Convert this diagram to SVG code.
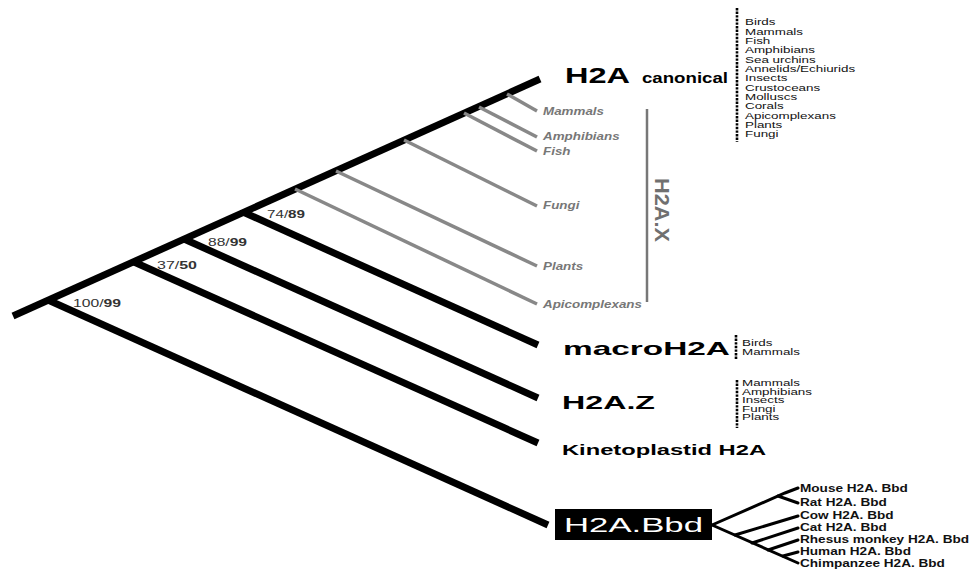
<svg xmlns="http://www.w3.org/2000/svg" width="971" height="570" viewBox="0 0 971 570">
<style>
.thick{stroke:#000;stroke-width:7;fill:none;stroke-linecap:butt}
.grey{stroke:#888;stroke-width:3.5;fill:none}
.thin{stroke:#000;stroke-width:3;fill:none;stroke-linecap:round}
.dot{stroke:#000;stroke-width:2.6;stroke-dasharray:2.4 1.2;fill:none}
text{font-family:"Liberation Sans",Arial,sans-serif}
.big{font-weight:bold;fill:#000}
.lst{font-size:8.6px;fill:#111}
.gl{font-size:10px;font-weight:bold;font-style:italic;fill:#777}
.bs{font-size:10.5px;fill:#333}
.bbd{font-size:10px;font-weight:bold;fill:#111}
</style>
<g id="connectors">
<line class="thick" x1="13" y1="316" x2="540" y2="79"/>
<line class="thick" x1="48" y1="300" x2="548" y2="525"/>
<line class="thick" x1="134" y1="262" x2="538" y2="443"/>
<line class="thick" x1="184" y1="239" x2="538" y2="398"/>
<line class="thick" x1="243" y1="212" x2="538" y2="345"/>
<line class="grey" x1="295" y1="189" x2="537" y2="304"/>
<line class="grey" x1="336" y1="171" x2="537" y2="266"/>
<line class="grey" x1="404" y1="140" x2="537" y2="206"/>
<line class="grey" x1="464" y1="113" x2="537" y2="151"/>
<line class="grey" x1="479" y1="107" x2="537" y2="137"/>
<line class="grey" x1="507" y1="94" x2="537" y2="111"/>
<line x1="647" y1="109" x2="647" y2="302" stroke="#777" stroke-width="2.5"/>
<polyline class="thin" points="712,525 785,493 798,488"/>
<line class="thin" x1="778" y1="496" x2="798" y2="503"/>
<line class="thin" x1="712" y1="525" x2="798" y2="563"/>
<line class="thin" x1="735" y1="535" x2="798" y2="516"/>
<line class="thin" x1="752" y1="543" x2="798" y2="528"/>
<line class="thin" x1="768" y1="550" x2="798" y2="540"/>
<line class="thin" x1="783" y1="556" x2="798" y2="552"/>
<line class="dot" x1="737" y1="8" x2="737" y2="142"/>
<line class="dot" x1="736" y1="335" x2="736" y2="359"/>
<line class="dot" x1="737" y1="380" x2="737" y2="428"/>
</g>
<g id="bootstrap">
<text class="bs" x="73" y="307" textLength="48" lengthAdjust="spacingAndGlyphs">100/<tspan font-weight="bold">99</tspan></text>
<text class="bs" x="157" y="269" textLength="40" lengthAdjust="spacingAndGlyphs">37/<tspan font-weight="bold">50</tspan></text>
<text class="bs" x="208" y="246" textLength="39" lengthAdjust="spacingAndGlyphs">88/<tspan font-weight="bold">99</tspan></text>
<text class="bs" x="267" y="218" textLength="38" lengthAdjust="spacingAndGlyphs">74/<tspan font-weight="bold">89</tspan></text>
</g>
<g id="h2a-canonical">
<text class="big" x="565" y="83" font-size="22" textLength="65" lengthAdjust="spacingAndGlyphs">H2A</text>
<text class="big" x="642" y="83" font-size="14" textLength="86" lengthAdjust="spacingAndGlyphs">canonical</text>
<g transform="translate(745,0) scale(1.56,1)">
<text class="lst" x="0" y="25.5">Birds</text>
<text class="lst" x="0" y="34.8">Mammals</text>
<text class="lst" x="0" y="44.2">Fish</text>
<text class="lst" x="0" y="53.5">Amphibians</text>
<text class="lst" x="0" y="62.8">Sea urchins</text>
<text class="lst" x="0" y="72.2">Annelids/Echiurids</text>
<text class="lst" x="0" y="81.5">Insects</text>
<text class="lst" x="0" y="90.8">Crustoceans</text>
<text class="lst" x="0" y="100.2">Molluscs</text>
<text class="lst" x="0" y="109.5">Corals</text>
<text class="lst" x="0" y="118.8">Apicomplexans</text>
<text class="lst" x="0" y="128.2">Plants</text>
<text class="lst" x="0" y="137.5">Fungi</text>
</g>
</g>
<g id="h2a-x">
<g transform="translate(543,0) scale(1.34,1)">
<text class="gl" x="0" y="115.5">Mammals</text>
<text class="gl" x="0" y="140.5">Amphibians</text>
<text class="gl" x="0" y="155.5">Fish</text>
<text class="gl" x="0" y="209.5">Fungi</text>
<text class="gl" x="0" y="270.5">Plants</text>
<text class="gl" x="0" y="308.5">Apicomplexans</text>
</g>
<text transform="translate(655,178) rotate(90)" x="0" y="0" font-size="21" font-weight="bold" fill="#707070" textLength="64" lengthAdjust="spacingAndGlyphs">H2A.X</text>
</g>
<g id="macroh2a">
<text class="big" x="563" y="355" font-size="19" textLength="167" lengthAdjust="spacingAndGlyphs">macroH2A</text>
<g transform="translate(742,0) scale(1.56,1)">
<text class="lst" x="0" y="346.5">Birds</text>
<text class="lst" x="0" y="355.5">Mammals</text>
</g>
</g>
<g id="h2a-z">
<text class="big" x="562" y="409" font-size="19" textLength="93" lengthAdjust="spacingAndGlyphs">H2A.Z</text>
<g transform="translate(742,0) scale(1.56,1)">
<text class="lst" x="0" y="386.5">Mammals</text>
<text class="lst" x="0" y="395">Amphibians</text>
<text class="lst" x="0" y="403.5">Insects</text>
<text class="lst" x="0" y="412">Fungi</text>
<text class="lst" x="0" y="420.5">Plants</text>
</g>
</g>
<g id="kinetoplastid">
<text class="big" x="562" y="455" font-size="15" textLength="204" lengthAdjust="spacingAndGlyphs">Kinetoplastid H2A</text>
</g>
<g id="h2a-bbd">
<rect x="555" y="509" width="157" height="31" fill="#000"/>
<text x="564" y="532" font-size="21" fill="#fff" textLength="139" lengthAdjust="spacingAndGlyphs">H2A.Bbd</text>
<g transform="translate(800,0) scale(1.36,1)">
<text class="bbd" x="0" y="492.5">Mouse H2A. Bbd</text>
<text class="bbd" x="0" y="506.5">Rat H2A. Bbd</text>
<text class="bbd" x="0" y="519.5">Cow H2A. Bbd</text>
<text class="bbd" x="0" y="531.5">Cat H2A. Bbd</text>
<text class="bbd" x="0" y="543.5">Rhesus monkey H2A. Bbd</text>
<text class="bbd" x="0" y="555.5">Human H2A. Bbd</text>
<text class="bbd" x="0" y="567">Chimpanzee H2A. Bbd</text>
</g>
</g>
</svg>
